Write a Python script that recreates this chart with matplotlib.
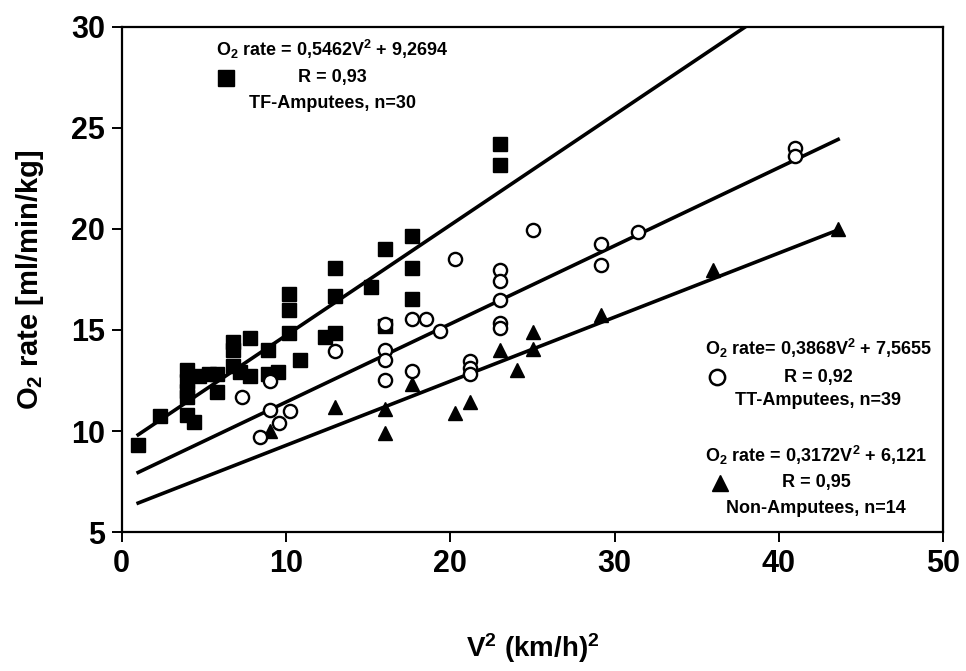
import numpy as np
from matplotlib import pyplot as plt

plt.rcParams['font.family'] = ['Liberation Sans', 'DejaVu Sans']
plt.rcParams['font.weight'] = 'bold'
plt.rcParams['mathtext.fontset'] = 'custom'
plt.rcParams['mathtext.rm'] = 'Liberation Sans:bold'
plt.rcParams['mathtext.it'] = 'Liberation Sans:bold'
plt.rcParams['mathtext.bf'] = 'Liberation Sans:bold'

# TF-Amputees (squares)
tf_x = [1.0, 2.3, 4.0, 4.4, 4.0, 4.0, 4.0, 4.0, 4.7, 5.3, 5.8, 5.8, 6.8, 6.8, 6.8, 7.2,
        7.8, 7.8, 8.9, 8.9, 9.5, 10.2, 10.2, 10.2, 10.85, 12.4, 13.0, 13.0, 13.0, 15.2,
        16.0, 16.0, 17.65, 17.65, 17.65, 23.0, 23.0]
tf_y = [9.3, 10.75, 10.8, 10.45, 13.0, 12.5, 12.0, 11.7, 12.7, 12.8, 12.8, 11.95, 14.4, 14.0, 13.2, 12.9,
        14.6, 12.7, 14.0, 12.8, 12.9, 16.8, 16.0, 14.85, 13.5, 14.65, 18.05, 16.7, 14.85, 17.15,
        19.0, 15.2, 19.65, 18.05, 16.55, 24.2, 23.15]

# TT-Amputees (open circles)
tt_x = [7.3, 8.4, 9.0, 9.0, 9.6, 10.25, 13.0, 16.0, 16.0, 16.0, 16.0, 17.65, 17.65, 18.5, 19.4,
        20.3, 21.2, 21.2, 21.2, 23.05, 23.05, 23.05, 23.05, 23.05, 25.0, 29.15, 29.15, 31.4, 41.0, 41.0]
tt_y = [11.7, 9.7, 11.05, 12.5, 10.4, 11.0, 13.95, 15.3, 14.0, 13.5, 12.55, 15.55, 12.95, 15.55, 14.95,
        18.5, 13.45, 13.1, 12.8, 17.95, 17.4, 16.5, 15.35, 15.1, 19.95, 19.25, 18.2, 19.85, 24.0, 23.6]

# Non-Amputees (triangles)
na_x = [9.0, 13.0, 16.0, 16.0, 17.65, 20.3, 21.2, 23.05, 24.05, 25.0, 25.0, 29.15, 36.0, 43.6]
na_y = [10.0, 11.2, 11.1, 9.9, 12.35, 10.9, 11.45, 14.0, 13.0, 14.9, 14.05, 15.75, 17.95, 20.0]

# regression lines: slope, intercept, x-range
fits = {
    'TF': (0.5462, 9.2694, 1.0, 38.0),
    'TT': (0.3868, 7.5655, 1.0, 43.6),
    'NA': (0.3172, 6.121, 1.0, 43.6),
}

fig = plt.figure(figsize=(9.66, 6.71), dpi=100)
ax = fig.add_axes([0.126, 0.207, 0.8505, 0.753])

for key, (a, b, x0, x1) in fits.items():
    xs = np.array([x0, x1])
    ax.plot(xs, a * xs + b, color='black', lw=2.6, zorder=2)

ax.plot(tf_x, tf_y, 's', color='black', ms=10.5, zorder=3)
ax.plot(tt_x, tt_y, 'o', mfc='white', mec='black', mew=1.7, ms=9.5, zorder=4)
ax.plot(na_x, na_y, '^', color='black', ms=10.5, zorder=3)

ax.set_xlim(0, 50)
ax.set_ylim(5, 30)
ax.set_xticks([0, 10, 20, 30, 40, 50])
ax.set_yticks([5, 10, 15, 20, 25, 30])
ax.tick_params(direction='out', length=7, width=1.4, labelsize=22, pad=5)
for s in ax.spines.values():
    s.set_linewidth(1.6)

ax.set_ylabel('O$_2$ rate [ml/min/kg]', fontsize=21, fontweight='bold', labelpad=18)
ax.set_xlabel('V$^2$ (km/h)$^2$', fontsize=20, fontweight='bold', labelpad=38)

# annotation blocks (text centre x, line y's, key marker position)
fs = 13
ax.text(12.8, 28.86, 'O$_2$ rate = 0,5462V$^2$ + 9,2694', ha='center', va='center', fontsize=fs)
ax.text(12.8, 27.47, 'R = 0,93', ha='center', va='center', fontsize=fs)
ax.text(12.8, 26.19, 'TF-Amputees, n=30', ha='center', va='center', fontsize=fs)
ax.plot([6.35], [27.47], 's', color='black', ms=11, clip_on=False)

ax.text(42.4, 14.11, 'O$_2$ rate= 0,3868V$^2$ + 7,5655', ha='center', va='center', fontsize=fs)
ax.text(42.4, 12.67, 'R = 0,92', ha='center', va='center', fontsize=fs)
ax.text(42.4, 11.49, 'TT-Amputees, n=39', ha='center', va='center', fontsize=fs)
ax.plot([36.2], [12.67], 'o', mfc='white', mec='black', mew=1.8, ms=11)

ax.text(42.25, 8.81, 'O$_2$ rate = 0,3172V$^2$ + 6,121', ha='center', va='center', fontsize=fs)
ax.text(42.25, 7.43, 'R = 0,95', ha='center', va='center', fontsize=fs)
ax.text(42.25, 6.19, 'Non-Amputees, n=14', ha='center', va='center', fontsize=fs)
ax.plot([36.4], [7.43], '^', color='black', ms=12)

plt.savefig('out.png', dpi=100)
plt.close()
